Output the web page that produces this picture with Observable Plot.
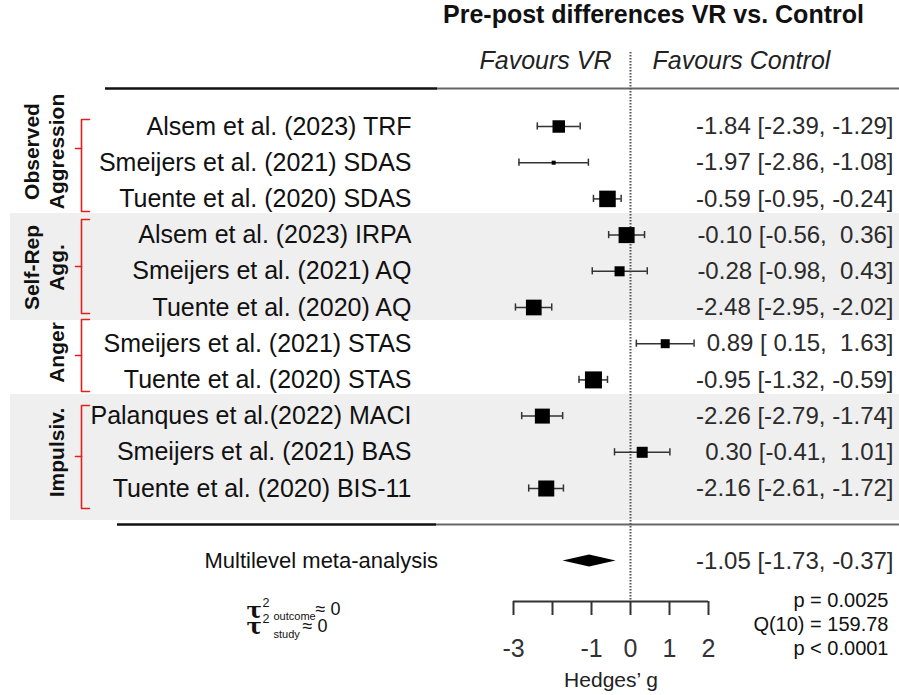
<!DOCTYPE html>
<html>
<head>
<meta charset="utf-8">
<script src="https://cdn.jsdelivr.net/npm/d3@7"></script>
<script src="https://cdn.jsdelivr.net/npm/@observablehq/plot@0.6"></script>
<style>
  body { margin: 0; background: #fff; }
  #title { height: 42px; line-height: 42px; padding-left: 443px; font: bold 25px "Liberation Sans", Arial, sans-serif; color: #111; white-space: nowrap; }
  #chart svg text { white-space: pre; }
</style>
</head>
<body>
<div id="title">Pre-post differences VR vs. Control</div>
<div id="chart"></div>
<script>
// ---------------- DATA ----------------
const studies = [
  "Alsem et al. (2023) TRF",
  "Smeijers et al. (2021) SDAS",
  "Tuente et al. (2020) SDAS",
  "Alsem et al. (2023) IRPA",
  "Smeijers et al. (2021) AQ",
  "Tuente et al. (2020) AQ",
  "Smeijers et al. (2021) STAS",
  "Tuente et al. (2020) STAS",
  "Palanques et al.(2022) MACI",
  "Smeijers et al. (2021) BAS",
  "Tuente et al. (2020) BIS-11"
];
const outcomeGroups = ["Observed\nAggression", "Self-Rep\nAgg.", "Anger", "Impulsiv."];
const hedgesG = [-1.84, -1.97, -0.59, -0.10, -0.28, -2.48, 0.89, -0.95, -2.26, 0.30, -2.16];
const ciLower = [-2.39, -2.86, -0.95, -0.56, -0.98, -2.95, 0.15, -1.32, -2.79, -0.41, -2.61];
const ciUpper = [-1.29, -1.08, -0.24, 0.36, 0.43, -2.02, 1.63, -0.59, -1.74, 1.01, -1.72];
const weights = [7.7, 0.8, 13.5, 12.7, 5.0, 12.2, 4.0, 14.3, 11.1, 6.0, 12.7];
const pooledLabel = ["Multilevel meta-analysis"];
const pooledG = [-1.05];
const pooledLower = [-1.73];
const pooledUpper = [-0.37];
const tickValues = [-3, -2, -1, 0, 1, 2];
const tickLabels = ["-3", "", "-1", "0", "1", "2"];
const statLines = ["p = 0.0025", "Q(10) = 159.78", "p < 0.0001"];
const favourLabels = ["Favours VR", "Favours Control"];
const axisTitle = ["Hedges\u2019 g"];
const tauSymbol = ["\u03C4", "\u03C4"];
const tauPower = ["2", "2"];
const tauLevel = ["outcome", "study"];
const tauValue = ["\u2248 0", "\u2248 0"];

// ---------------- LAYOUT ----------------
const OFF = 42;                       // height of the title block above the svg
const XD = [-3, 2], XR = [513, 708];  // forest axis
const YD = [0, 12], YR = [126 - OFF, 560.4 - OFF]; // row index -> svg y
const sx = d3.scaleLinear(XD, XR), sy = d3.scaleLinear(YD, YR);
const X = p => sx.invert(p);          // page pixel -> x data
const Y = p => sy.invert(p - OFF);    // page pixel -> row units
const rowStep = (YR[1] - YR[0]) / (YD[1] - YD[0]);
const metaRow = studies.length + 1;

const groupLabelY = [151, 267, 352, 452];
const brackets = [[119, 148, 211], [219, 266, 313], [319, 355, 391], [405, 456, 508]];
const bands = [[213, 320], [394, 520]];

const font = "Liberation Sans, Arial, sans-serif";
const f2 = v => v.toFixed(2);
const pad = v => (v < 0 ? "" : " ") + f2(v);
const annot = (g, lo, hi) => `${f2(g)} [${pad(lo)}, ${pad(hi)}]`;

const rows = studies.map((s, i) => ({study: s, g: hedgesG[i], lo: ciLower[i], hi: ciUpper[i], w: weights[i], row: i}));
const meta = pooledLabel.map((s, i) => ({label: s, g: pooledG[i], lo: pooledLower[i], hi: pooledUpper[i], row: metaRow}));
const dh = 6 / rowStep;
const diamond = meta.flatMap(d => [
  {x: d.lo, y1: d.row, y2: d.row},
  {x: d.g, y1: d.row - dh, y2: d.row + dh},
  {x: d.hi, y1: d.row, y2: d.row}
]);
const bracketPts = brackets.flatMap(([t, m, b], k) => [
  {k: "b" + k, x: X(89), y: Y(t)}, {k: "b" + k, x: X(81), y: Y(t)},
  {k: "b" + k, x: X(81), y: Y(b)}, {k: "b" + k, x: X(89), y: Y(b)},
  {k: "m" + k, x: X(81), y: Y(m)}, {k: "m" + k, x: X(75), y: Y(m)}
]);
const groups = outcomeGroups.map((name, i) => ({name, y: Y(groupLabelY[i])}));
const capH = 3.6 / rowStep;

const plot = Plot.plot({
  width: 899,
  height: 695 - OFF,
  marginTop: 0, marginLeft: 0, marginRight: 0,
  marginBottom: (695 - OFF) - (601 - OFF),
  x: {domain: XD, range: XR},
  y: {domain: YD, range: YR, axis: null},
  r: {type: "sqrt", domain: [0, 16], range: [0, 10.15]},
  style: {fontFamily: font, background: "white", overflow: "visible"},
  marks: [
    // shaded outcome bands
    Plot.rect(bands, {x1: X(10), x2: X(899), y1: d => Y(d[0]), y2: d => Y(d[1]), fill: "#efefef"}),
    // header and footer rules
    Plot.ruleY([Y(88)], {x1: X(105), x2: X(437), stroke: "#111", strokeWidth: 2.5}),
    Plot.ruleY([Y(88)], {x1: X(437), x2: X(899), stroke: "#666", strokeWidth: 2}),
    Plot.ruleY([Y(524)], {x1: X(117), x2: X(436), stroke: "#111", strokeWidth: 2.5}),
    Plot.ruleY([Y(524)], {x1: X(436), x2: X(899), stroke: "#666", strokeWidth: 2}),
    // null line
    Plot.ruleX([0], {y1: Y(52), y2: Y(601), stroke: "#555", strokeWidth: 2, strokeDasharray: "1.5,1.5"}),
    // red brackets
    Plot.line(bracketPts, {x: "x", y: "y", z: "k", stroke: "#e3201b", strokeWidth: 1.6}),
    // confidence intervals
    Plot.ruleY(rows, {x1: "lo", x2: "hi", y: "row", stroke: "#333", strokeWidth: 1.5}),
    Plot.ruleX(rows, {x: "lo", y1: d => d.row - capH, y2: d => d.row + capH, stroke: "#333", strokeWidth: 1.5}),
    Plot.ruleX(rows, {x: "hi", y1: d => d.row - capH, y2: d => d.row + capH, stroke: "#333", strokeWidth: 1.5}),
    Plot.dot(rows, {x: "g", y: "row", r: "w", symbol: "square", fill: "black"}),
    // pooled diamond
    Plot.areaY(diamond, {x: "x", y1: "y1", y2: "y2", fill: "black"}),
    // axis
    Plot.ruleY([Y(601)], {x1: XD[0], x2: XD[1], stroke: "#333", strokeWidth: 2}),
    Plot.axisX({ticks: tickValues, tickFormat: d => tickLabels[tickValues.indexOf(d)], tickSize: 14, tickPadding: 24,
                fontSize: 25, strokeWidth: 2, color: "#333", label: null}),
    Plot.text(axisTitle, {x: (XD[0] + XD[1]) / 2, y: Y(680), text: d => d, fontSize: 21, fill: "#222"}),
    // headers
    Plot.text([favourLabels[0]], {x: X(611), y: Y(60.5), text: d => d, textAnchor: "end", fontSize: 25, fontStyle: "italic", fill: "#222"}),
    Plot.text([favourLabels[1]], {x: X(652), y: Y(60.5), text: d => d, textAnchor: "start", fontSize: 25, fontStyle: "italic", fill: "#222"}),
    // group labels
    Plot.text(groups, {x: X(63), y: "y", text: "name", rotate: -90, lineAnchor: "bottom", lineHeight: 1.15,
                       fontSize: 21, fontWeight: "bold", fill: "#111"}),
    // study labels
    Plot.text(rows, {x: X(411), y: "row", text: "study", textAnchor: "end", fontSize: 25, fill: "#111"}),
    // annotations
    Plot.text(rows, {x: X(893), y: "row", text: d => annot(d.g, d.lo, d.hi), textAnchor: "end", fontSize: 24, fill: "#2b2b2b"}),
    Plot.text(meta, {x: X(893), y: "row", text: d => annot(d.g, d.lo, d.hi), textAnchor: "end", fontSize: 24, fill: "#2b2b2b"}),
    Plot.text(meta, {x: X(204), y: "row", text: "label", textAnchor: "start", fontSize: 22, fill: "#111"}),
    // heterogeneity statistics
    Plot.text(statLines, {x: X(888), y: (d, i) => Y(600 + 24 * i), text: d => d, textAnchor: "end", fontSize: 20, fill: "#111"}),
    // tau^2 lines
    Plot.text(tauSymbol, {x: X(246), y: (d, i) => Y(i ? 626 : 610), text: d => d, textAnchor: "start", fontSize: 23, fontWeight: "bold", fontFamily: "DejaVu Serif, serif", fill: "#111"}),
    Plot.text(tauPower, {x: X(262), y: (d, i) => Y(i ? 618.5 : 602.5), text: d => d, textAnchor: "start", fontSize: 12.5, fill: "#111"}),
    Plot.text(tauLevel, {x: X(273), y: (d, i) => Y(i ? 634 : 615.5), text: d => d, textAnchor: "start", fontSize: 11, fill: "#111"}),
    Plot.text(tauValue, {x: (d, i) => X(i ? 302 : 315), y: (d, i) => Y(i ? 626 : 609), text: d => d, textAnchor: "start", fontSize: 18, fill: "#111"})
  ]
});
document.getElementById("chart").appendChild(plot);
</script>
</body>
</html>
